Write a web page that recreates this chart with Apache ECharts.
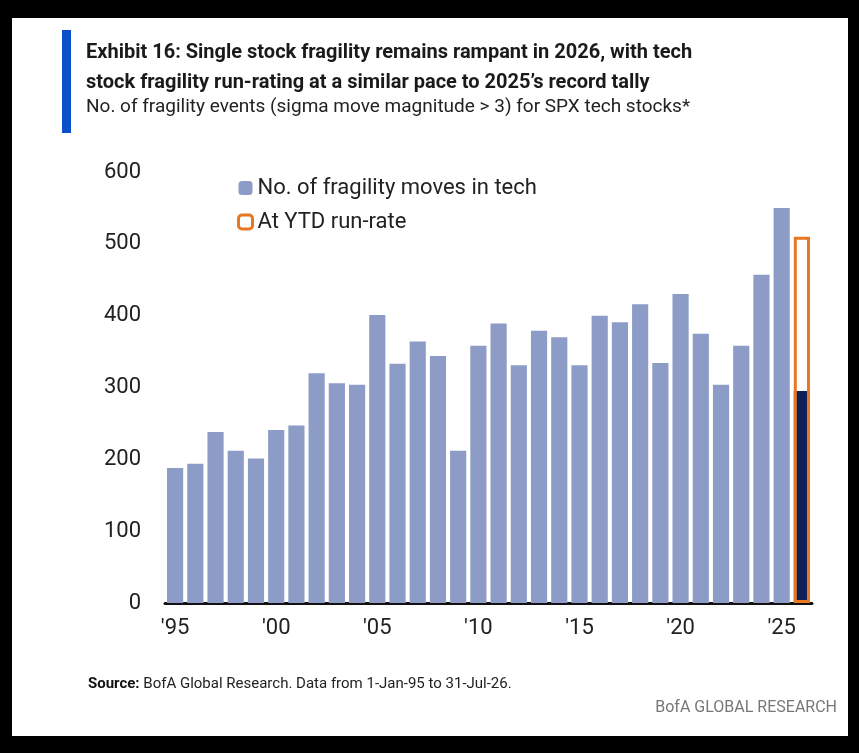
<!DOCTYPE html>
<html><head><meta charset="utf-8">
<script src="https://cdn.jsdelivr.net/npm/echarts@6/dist/echarts.min.js"></script>
<style>
html,body{margin:0;padding:0;background:#000;}
#panel{position:absolute;left:12px;top:18px;width:836px;height:718px;background:#fff;}
#chart{position:absolute;left:0;top:0;width:859px;height:753px;}
</style></head>
<body>
<div id="panel"></div>
<div id="chart"></div>
<script>
// 年份 1995-2026
var years = [];
for (var y = 1995; y <= 2026; y++) years.push(String(y));
var tickLabels = {'1995':"'95",'2000':"'00",'2005':"'05",'2010':"'10",'2015':"'15",'2020':"'20",'2025':"'25"};
// 科技股脆弱性事件数
var fragility = [188,194,238,212,201,241,247,320,306,304,401,333,364,344,212,358,389,331,379,370,331,400,391,416,334,430,375,304,358,457,550,null];
var ytdActual = [null,null,null,null,null,null,null,null,null,null,null,null,null,null,null,null,null,null,null,null,null,null,null,null,null,null,null,null,null,null,null,295];
var runRate = [null,null,null,null,null,null,null,null,null,null,null,null,null,null,null,null,null,null,null,null,null,null,null,null,null,null,null,null,null,null,null,510];

var chart = echarts.init(document.getElementById('chart'));
var font = 'Roboto, "Noto Sans", sans-serif';
chart.setOption({
  animation: false,
  graphic: [
    {type:'rect', shape:{x:62,y:30,width:9,height:103}, style:{fill:'#0a4fc9'}},
    {type:'text', left:86, top:38, style:{text:'Exhibit 16: Single stock fragility remains rampant in 2026, with tech\nstock fragility run-rating at a similar pace to 2025\u2019s record tally', font:'bold 20px '+font, fill:'#1a1a1a', lineHeight:30}},
    {type:'text', left:86, top:98, style:{text:'No. of fragility events (sigma move magnitude > 3) for SPX tech stocks*', font:'19px '+font, fill:'#222'}},
    {type:'text', left:88, top:677, style:{rich:{b:{font:'bold 15px '+font,fill:'#111'},n:{font:'15px '+font,fill:'#222'}}, text:'{b|Source:}{n| BofA Global Research. Data from 1-Jan-95 to 31-Jul-26.}'}},
    {type:'text', right:22, top:700, style:{text:'BofA GLOBAL RESEARCH', font:'16px '+font, fill:'#777'}}
  ],
  legend: {
    left: 232, top: 172, orient: 'vertical', itemGap: 12, itemWidth: 14, itemHeight: 14,
    textStyle: {fontSize: 22, fontFamily: font, color: '#222'},
    data: [
      {name:'No. of fragility moves in tech', itemStyle:{color:'#8d9cc6'}},
      {name:'At YTD run-rate', itemStyle:{color:'#fff', borderColor:'#e87722', borderWidth:3}}
    ]
  },
  grid: {left: 165, right: 47, top: 172, bottom: 150},
  xAxis: {
    type: 'category', data: years,
    axisLine: {lineStyle: {color: '#111', width: 3}},
    axisTick: {show: false},
    axisLabel: {interval: 0, fontSize: 22, fontFamily: font, color: '#222', margin: 14,
      formatter: function (v) { return tickLabels[v] || ''; }}
  },
  yAxis: {
    type: 'value', min: 0, max: 600, interval: 100,
    splitLine: {show: false},
    axisLabel: {fontSize: 22, fontFamily: font, color: '#222', margin: 24}
  },
  series: [
    {name:'No. of fragility moves in tech', type:'bar', data:fragility, barCategoryGap:'20%', barGap:'-100%', itemStyle:{color:'#8d9cc6'}},
    {name:'YTD', type:'bar', data:ytdActual, barGap:'-100%', itemStyle:{color:'#0d2157'}},
    {name:'At YTD run-rate', type:'bar', data:runRate, barGap:'-100%', itemStyle:{color:'rgba(0,0,0,0)', borderColor:'#e87722', borderWidth:3}}
  ]
});
</script>
</body></html>
